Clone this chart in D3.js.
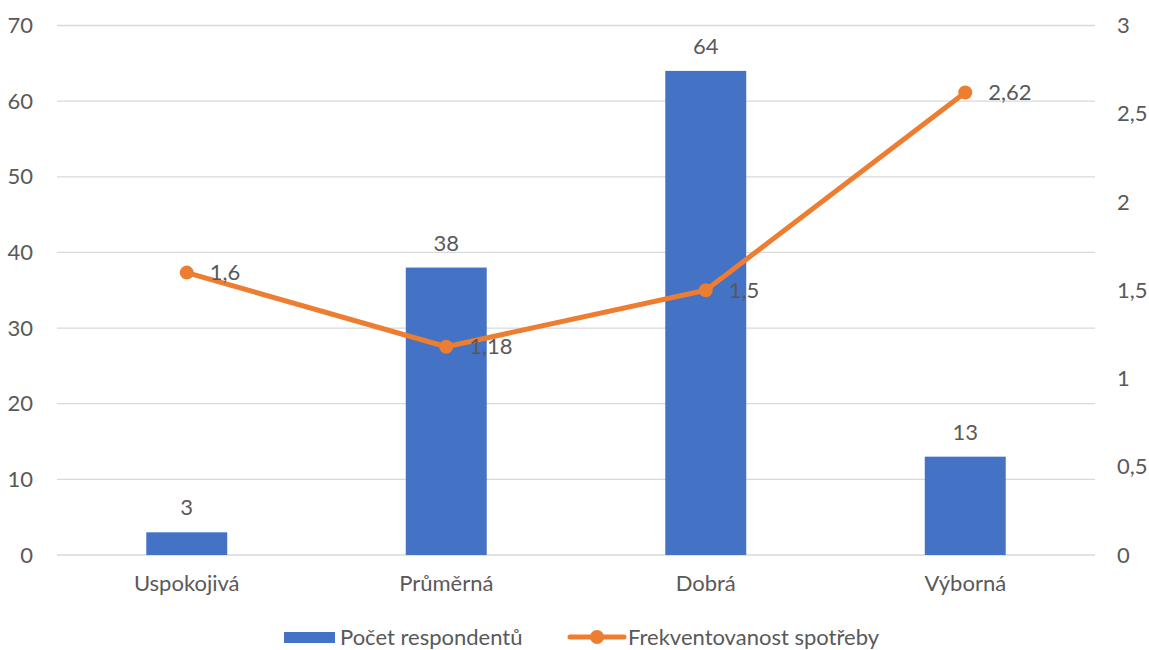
<!DOCTYPE html>
<html>
<head>
<meta charset="utf-8">
<script src="https://cdn.jsdelivr.net/npm/d3@7"></script>
<style>
  body { margin: 0; background: #fff; }
  svg text { font-family: Lato, "Open Sans", sans-serif; fill: #595959; }
</style>
</head>
<body>
<svg width="1149" height="650"></svg>
<script>
const categories = ["Uspokojivá", "Průměrná", "Dobrá", "Výborná"];
const respondents = [3, 38, 64, 13];
const frequency = [1.6, 1.18, 1.5, 2.62];
const leftTicks = [0, 10, 20, 30, 40, 50, 60, 70];
const rightTicks = [0, 0.5, 1, 1.5, 2, 2.5, 3];
const seriesNames = ["Počet respondentů", "Frekventovanost spotřeby"];

const BLUE = "#4472C4";
const ORANGE = "#ED7D31";
const FS = 22;
const fmt = v => String(v).replace(".", ",");

const svg = d3.select("svg");
const plotLeft = 57, plotRight = 1095, plotTop = 25.5, plotBottom = 555;

const x = d3.scaleBand().domain(categories).range([plotLeft, plotRight]).paddingInner(0.688).paddingOuter(0.344);
const yL = d3.scaleLinear().domain([0, 70]).range([plotBottom, plotTop]);
const yR = d3.scaleLinear().domain([0, 3]).range([plotBottom, plotTop]);
const cx = c => x(c) + x.bandwidth() / 2;

// gridlines
svg.append("g")
  .selectAll("line")
  .data(leftTicks)
  .join("line")
  .attr("x1", plotLeft).attr("x2", plotRight)
  .attr("y1", d => yL(d)).attr("y2", d => yL(d))
  .attr("stroke", "#D9D9D9").attr("stroke-width", 1.3);

// left axis labels
svg.append("g")
  .selectAll("text")
  .data(leftTicks)
  .join("text")
  .attr("x", 33).attr("y", d => yL(d))
  .attr("dy", "0.35em")
  .attr("text-anchor", "end")
  .attr("font-size", FS)
  .text(d => d);

// right axis labels
svg.append("g")
  .selectAll("text")
  .data(rightTicks)
  .join("text")
  .attr("x", 1117).attr("y", d => yR(d))
  .attr("dy", "0.35em")
  .attr("font-size", FS)
  .text(fmt);

// bars
svg.append("g")
  .selectAll("rect")
  .data(respondents)
  .join("rect")
  .attr("x", (d, i) => x(categories[i]))
  .attr("width", x.bandwidth())
  .attr("y", d => yL(d))
  .attr("height", d => plotBottom - yL(d))
  .attr("fill", BLUE);

svg.append("g")
  .selectAll("text")
  .data(respondents)
  .join("text")
  .attr("x", (d, i) => cx(categories[i]))
  .attr("y", d => yL(d) - 17)
  .attr("text-anchor", "middle")
  .attr("font-size", FS)
  .attr("fill", "#404040")
  .text(d => d);

// category labels
svg.append("g")
  .selectAll("text")
  .data(categories)
  .join("text")
  .attr("x", cx).attr("y", 583)
  .attr("dy", "0.35em")
  .attr("text-anchor", "middle")
  .attr("font-size", FS)
  .text(d => d);

// line
const line = d3.line()
  .x((d, i) => cx(categories[i]))
  .y(d => yR(d));

svg.append("path")
  .datum(frequency)
  .attr("d", line)
  .attr("fill", "none")
  .attr("stroke", ORANGE)
  .attr("stroke-width", 5)
  .attr("stroke-linejoin", "round")
  .attr("stroke-linecap", "round");

svg.append("g")
  .selectAll("circle")
  .data(frequency)
  .join("circle")
  .attr("cx", (d, i) => cx(categories[i]))
  .attr("cy", d => yR(d))
  .attr("r", 7)
  .attr("fill", ORANGE);

svg.append("g")
  .selectAll("text")
  .data(frequency)
  .join("text")
  .attr("x", (d, i) => cx(categories[i]) + 23)
  .attr("y", d => yR(d))
  .attr("dy", "0.35em")
  .attr("font-size", FS)
  .attr("fill", "#404040")
  .text(fmt);

// legend
const legend = svg.append("g");
legend.append("rect")
  .attr("x", 284).attr("y", 632).attr("width", 51).attr("height", 11)
  .attr("fill", BLUE);
legend.append("text")
  .attr("x", 340).attr("y", 637).attr("dy", "0.35em")
  .attr("font-size", FS)
  .text(seriesNames[0]);
legend.append("line")
  .attr("x1", 570).attr("x2", 624).attr("y1", 637).attr("y2", 637)
  .attr("stroke", ORANGE).attr("stroke-width", 5).attr("stroke-linecap", "round");
legend.append("circle")
  .attr("cx", 597).attr("cy", 637).attr("r", 7).attr("fill", ORANGE);
legend.append("text")
  .attr("x", 628).attr("y", 637).attr("dy", "0.35em")
  .attr("font-size", FS)
  .text(seriesNames[1]);
</script>
</body>
</html>
